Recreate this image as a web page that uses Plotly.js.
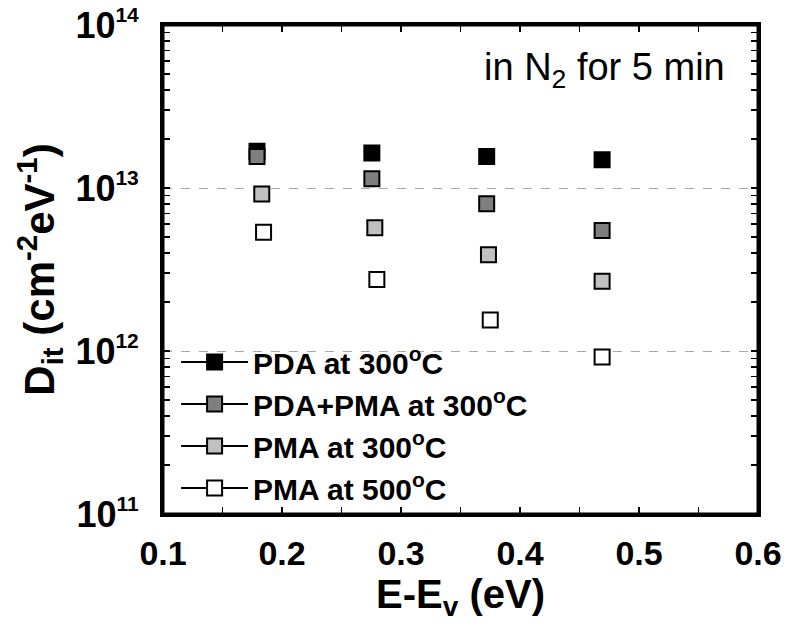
<!DOCTYPE html>
<html>
<head>
<meta charset="utf-8">
<script src="https://cdn.plot.ly/plotly-3.0.1.min.js"></script>
<style>html,body{margin:0;padding:0;background:#fff;}#chart{width:788px;height:630px;}</style>
</head>
<body>
<div id="chart"></div>
<script>
// Series names
const seriesNames = ["PDA at 300<sup>o</sup>C", "PDA+PMA at 300<sup>o</sup>C", "PMA at 300<sup>o</sup>C", "PMA at 500<sup>o</sup>C"];
// E - Ev (eV)
const xPDA300    = [0.179, 0.2755, 0.372, 0.469];
const xPDAPMA300 = [0.179, 0.2755, 0.372, 0.469];
const xPMA300    = [0.183, 0.278, 0.3735, 0.469];
const xPMA500    = [0.1845, 0.2797, 0.375, 0.469];
// Dit (cm^-2 eV^-1)
const yPDA300    = [1.68e13, 1.64e13, 1.56e13, 1.49e13];
const yPDAPMA300 = [1.56e13, 1.14e13, 8.0e12, 5.48e12];
const yPMA300    = [9.2e12, 5.7e12, 3.9e12, 2.68e12];
const yPMA500    = [5.35e12, 2.75e12, 1.55e12, 9.2e11];
// y tick values and labels
const yTickVals = [1e11, 1e12, 1e13, 1e14];
const yTickExps = ["11", "12", "13", "14"];
const yTickText = yTickExps.map(e => "10<sup><span style=\"font-size:21px\">" + e + "</span></sup>");

const fills = ["#000000", "#7f7f7f", "#c0c0c0", "#ffffff"];
const xs = [xPDA300, xPDAPMA300, xPMA300, xPMA500];
const ys = [yPDA300, yPDAPMA300, yPMA300, yPMA500];

const FONT = "Liberation Sans, Arial, Helvetica, sans-serif";
const traces = [];
for (let i = 0; i < 4; i++) {
  traces.push({
    x: xs[i], y: ys[i], type: "scatter", mode: "markers", name: seriesNames[i],
    showlegend: false, cliponaxis: false,
    marker: {symbol: "square", size: 15, color: fills[i], line: {color: "#000", width: 2}}
  });
}
// legend entries (line + marker symbol as in the original legend)
for (let i = 0; i < 4; i++) {
  traces.push({
    x: [null], y: [null], type: "scatter", mode: "lines+markers", name: seriesNames[i],
    showlegend: true,
    line: {color: "#000", width: 2},
    marker: {symbol: "square", size: 15, color: fills[i], line: {color: "#000", width: 2}}
  });
}

const layout = {
  width: 788, height: 630,
  margin: {l: 163, r: 30, t: 25, b: 116},
  paper_bgcolor: "#fff", plot_bgcolor: "#fff",
  font: {family: FONT, color: "#000"},
  showlegend: true,
  legend: {
    x: 0.022, y: 0.0, xanchor: "left", yanchor: "bottom",
    bgcolor: "rgba(0,0,0,0)", borderwidth: 0,
    font: {family: FONT, size: 30, color: "#000", weight: "bold"},
    itemwidth: 67, tracegroupgap: 0
  },
  xaxis: {
    type: "linear", range: [0.1, 0.6], dtick: 0.1, tick0: 0.1,
    showgrid: false, zeroline: false,
    showline: true, linecolor: "#000", linewidth: 3, mirror: "allticks",
    ticks: "inside", ticklen: 7, tickwidth: 1.5, tickcolor: "#000",
    minor: {dtick: 0.05, ticks: "inside", ticklen: 7, tickwidth: 1.5, tickcolor: "#000", showgrid: false},
    tickformat: ".1f",
    tickfont: {family: FONT, size: 34, color: "#000", weight: "bold"},
    ticklabelstandoff: 7,
    title: {text: "E-E<sub>v</sub> (eV)", font: {family: FONT, size: 40, color: "#000", weight: "bold"}, standoff: 4}
  },
  yaxis: {
    type: "log", range: [11, 14],
    tickmode: "array", tickvals: yTickVals, ticktext: yTickText,
    showgrid: true, gridcolor: "#a8a8a8", gridwidth: 1, griddash: "dash",
    zeroline: false,
    showline: true, linecolor: "#000", linewidth: 3, mirror: "allticks",
    ticks: "inside", ticklen: 7, tickwidth: 1.5, tickcolor: "#000",
    minor: {dtick: "D1", ticks: "inside", ticklen: 7, tickwidth: 1.5, tickcolor: "#000", showgrid: false},
    tickfont: {family: FONT, size: 36, color: "#000", weight: "bold"},
    ticklabelstandoff: 14,
    ticklabeloverflow: "allow",
    title: {text: "D<sub>it</sub> (cm<sup>-2</sup>eV<sup>-1</sup>)", font: {family: FONT, size: 42, color: "#000", weight: "bold"}, standoff: 8}
  },
  shapes: [{
    type: "rect", xref: "paper", yref: "paper", x0: 0, x1: 1, y0: 0, y1: 1,
    line: {color: "#000", width: 3}, fillcolor: "rgba(0,0,0,0)", layer: "above"
  }],
  annotations: [{
    xref: "paper", yref: "paper", x: 0.948, y: 0.908, xanchor: "right", yanchor: "middle",
    text: "in N<sub>2</sub> for 5 min", showarrow: false,
    font: {family: FONT, size: 38, color: "#000"}
  }]
};

function fixLegendLines() {
  document.querySelectorAll("#chart .legendpoints").forEach(function (g) {
    var pt = g.querySelector(".scatterpts");
    var cx = 20;
    if (pt) {
      var tr = pt.getAttribute("transform") || "";
      var m = tr.match(/translate\(\s*([-\d.]+)/);
      if (m) cx = parseFloat(m[1]);
    }
    g.querySelectorAll(".legendlines path").forEach(function (p) {
      p.setAttribute("d", "M" + (cx - 28) + ",0h56");
    });
  });
}

var gd = document.getElementById("chart");
Plotly.newPlot(gd, traces, layout, {displayModeBar: false, staticPlot: true}).then(function () {
  fixLegendLines();
  gd.on("plotly_afterplot", fixLegendLines);
  setTimeout(fixLegendLines, 50);
});
</script>
</body>
</html>
